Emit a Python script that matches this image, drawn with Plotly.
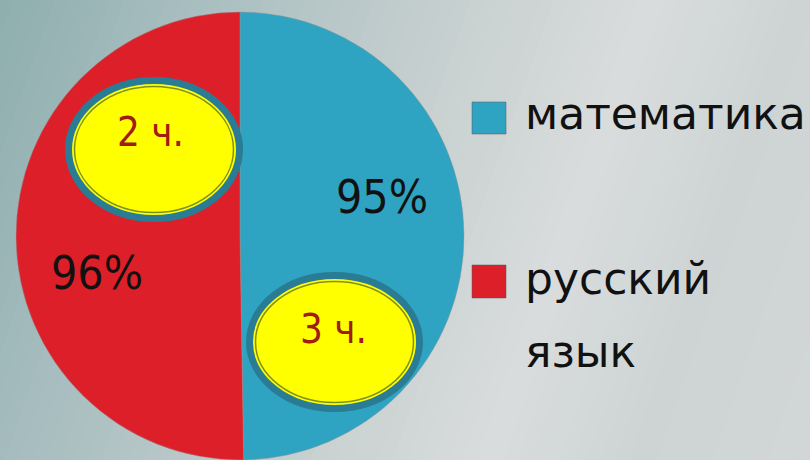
import plotly.graph_objects as go

# ---- data ----
subjects = ["математика", "русский язык"]
legend_lines = [["математика"], ["русский", "язык"]]
percent_values = [95, 96]
hours = [3, 2]
slice_colors = ["#2fa3c2", "#dd1f29"]

W, H = 810, 460


def px(x):
    return x / W


def py(y):
    return 1 - y / H


def hexrgb(h):
    h = h.lstrip("#")
    return [int(h[i:i + 2], 16) for i in (0, 2, 4)]


# background gradient stops along t = x + 0.35*y
stops = [(0, "#8eaeae"), (160, "#a4bbbd"), (450, "#c6cfcf"), (650, "#d9dcdc"),
         (800, "#ced4d4"), (980, "#d2d6d6")]


def color_at(t):
    for (t0, c0), (t1, c1) in zip(stops[:-1], stops[1:]):
        if t <= t1:
            f = (t - t0) / (t1 - t0)
            a, b = hexrgb(c0), hexrgb(c1)
            return "rgb(%d,%d,%d)" % tuple(round(a[i] + (b[i] - a[i]) * f) for i in range(3))
    return stops[-1][1]


shapes = []
k = 0.35
tmax = W + k * H
n = 70
step = tmax / n
for i in range(n):
    t0 = i * step - 1
    t1 = (i + 1) * step + 1
    pts = [(t0, 0), (t1, 0), (t1 - k * H, H), (t0 - k * H, H)]
    path = "M " + " L ".join("%.5f,%.5f" % (px(x), py(y)) for x, y in pts) + " Z"
    shapes.append(dict(type="path", path=path, xref="paper", yref="paper",
                       fillcolor=color_at((i + 0.5) * step), line=dict(width=0),
                       layer="below"))


def ellipse(x0, y0, x1, y1):
    out = []
    b = 3.5
    out.append(dict(type="circle", xref="paper", yref="paper",
                    x0=px(x0 + b), x1=px(x1 - b), y0=py(y1 - b), y1=py(y0 + b),
                    fillcolor="#ffff00", line=dict(color="#2a7c94", width=7),
                    layer="above"))
    g = 9.5
    out.append(dict(type="circle", xref="paper", yref="paper",
                    x0=px(x0 + g), x1=px(x1 - g), y0=py(y1 - g), y1=py(y0 + g),
                    fillcolor="rgba(0,0,0,0)", line=dict(color="#7f8f1c", width=1.5),
                    layer="above"))
    return out


# ellipses: math (3 h) on the blue slice, russian (2 h) on the red slice
ell_boxes = [(246, 272, 423, 412), (65, 77, 243, 222)]
for box in ell_boxes:
    shapes += ellipse(*box)

# legend squares
sq_boxes = [(472, 102, 506, 134), (472, 265, 506, 298)]
for c, (x0, y0, x1, y1) in zip(slice_colors, sq_boxes):
    shapes.append(dict(type="rect", xref="paper", yref="paper",
                       x0=px(x0), x1=px(x1), y0=py(y1), y1=py(y0),
                       fillcolor=c, line=dict(color="rgba(90,90,90,0.5)", width=1),
                       layer="above"))

fig = go.Figure(go.Pie(
    labels=subjects, values=percent_values, sort=False, direction="clockwise",
    rotation=0, marker=dict(colors=slice_colors, line=dict(width=0.6, color="rgba(150,150,150,0.8)")),
    textinfo="none", hoverinfo="label+value", showlegend=False,
    domain=dict(x=[px(240 - 224), px(240 + 224)], y=[0, py(12)]),
))

cond = "DejaVu Sans Condensed, DejaVu Sans"
ann = []
# percent labels
pct_pos = [(382, 197), (97, 273)]
for v, (x, y) in zip(percent_values, pct_pos):
    ann.append(dict(text="%d%%" % v, x=px(x), y=py(y), xref="paper", yref="paper",
                    showarrow=False, font=dict(family=cond, size=46, color="#111111"),
                    xanchor="center", yanchor="middle"))
# hours labels
hr_pos = [(333, 329), (150, 132)]
for h, (x, y) in zip(hours, hr_pos):
    ann.append(dict(text="%d ч." % h, x=px(x), y=py(y), xref="paper", yref="paper",
                    showarrow=False, font=dict(family=cond, size=40, color="#a01c14"),
                    xanchor="center", yanchor="middle"))
# legend texts
leg_y = [[113], [278, 351]]
for lines, ys in zip(legend_lines, leg_y):
    for t, y in zip(lines, ys):
        ann.append(dict(text=t, x=px(523), y=py(y), xref="paper", yref="paper",
                        showarrow=False, font=dict(family="DejaVu Sans", size=44, color="#111111"),
                        xanchor="left", yanchor="middle"))

fig.update_layout(
    width=W, height=H, margin=dict(l=0, r=0, t=0, b=0),
    paper_bgcolor="#c0cbcc", plot_bgcolor="rgba(0,0,0,0)",
    shapes=shapes, annotations=ann, showlegend=False,
)
fig.write_html("out.html", config={"displayModeBar": False},
               post_script="document.body.style.margin='0';document.body.style.overflow='hidden';")
